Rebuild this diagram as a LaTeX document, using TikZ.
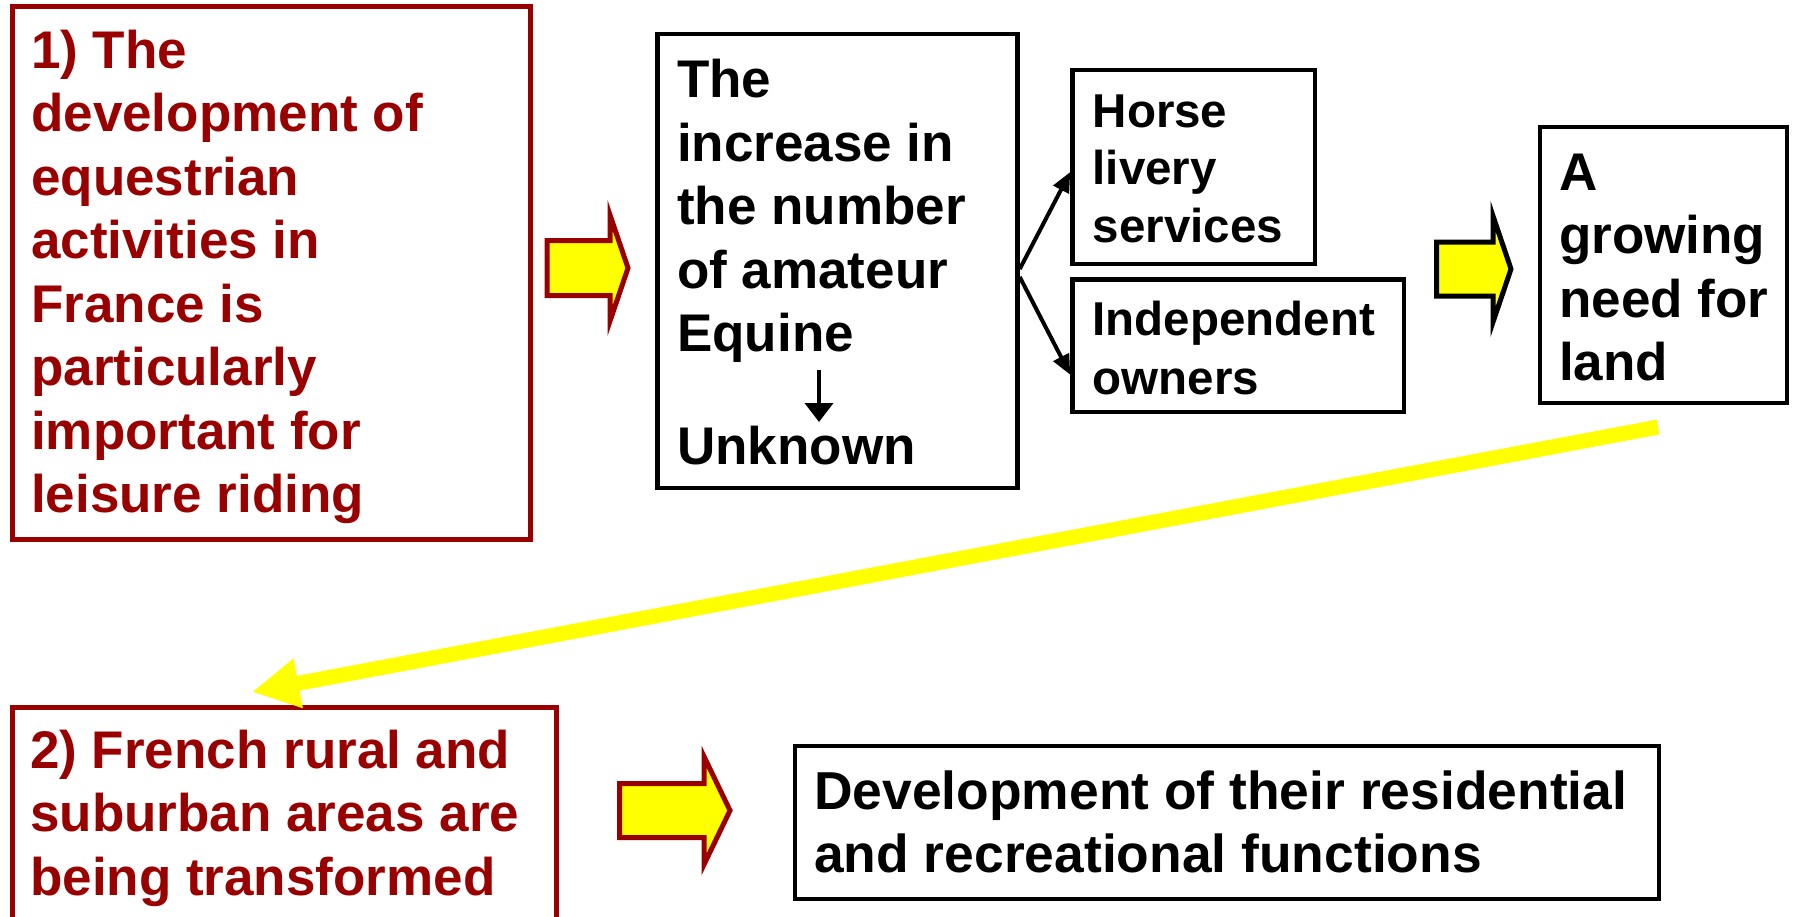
\documentclass[tikz,border=0pt]{standalone}
\usepackage{fontspec}
\setmainfont{Liberation Sans}
\usetikzlibrary{arrows.meta}
\definecolor{dred}{RGB}{153,0,0}
\definecolor{yel}{RGB}{255,255,0}
\begin{document}
\begin{tikzpicture}[x=1pt,y=-1pt,
  rbox/.style={draw=dred,line width=5pt,inner sep=0pt},
  kbox/.style={draw=black,line width=4.5pt,inner sep=0pt},
  bigtext/.style={font=\fontsize{53}{63.5}\selectfont\bfseries,anchor=base west,inner sep=0pt},
  smalltext/.style={font=\fontsize{47.5}{57.5}\selectfont\bfseries,anchor=base west,inner sep=0pt},
  blockarrow/.style={fill=yel,line width=5pt,line join=miter},
  thinarrow/.style={line width=4pt,-{Triangle[length=20pt,width=17pt]}},
]
\useasboundingbox (0,0) rectangle (1795,916);
\begin{scope}
\clip (0,0) rectangle (1795,916);
% boxes
\node[rbox,minimum width=518pt,minimum height=533pt] (b1) at (271,272.5) {};
\node[kbox,minimum width=360pt,minimum height=454pt] (b2) at (837.5,261) {};
\node[kbox,minimum width=242.5pt,minimum height=194pt] (b3) at (1193.75,167) {};
\node[kbox,minimum width=331.5pt,minimum height=132.5pt] (b4) at (1238.25,345.75) {};
\node[kbox,minimum width=247pt,minimum height=276pt] (b5) at (1663.5,265) {};
\node[rbox,minimum width=544pt,minimum height=253pt] (b6) at (284,833.5) {};
\node[kbox,minimum width=864pt,minimum height=153pt] (b7) at (1227,822.5) {};

% texts
\node[bigtext,text=dred] (t1) at (31,68) {\parbox[t]{500pt}{\raggedright 1) The\\development of\\equestrian\\activities in\\France is\\particularly\\important for\\leisure riding}};
\node[bigtext] (t2) at (677,97.5) {\parbox[t]{340pt}{\raggedright The\\increase in\\the number\\of amateur\\Equine}};
\node[bigtext] (t2b) at (677,464) {Unknown};
\node[smalltext] (t3) at (1092.5,127) {\parbox[t]{220pt}{\raggedright Horse\\livery\\services}};
\node[smalltext,font=\fontsize{47.5}{59}\selectfont\bfseries] (t4) at (1092.5,335) {\parbox[t]{310pt}{\raggedright Independent\\owners}};
\node[bigtext] (t5) at (1559,190) {\parbox[t]{230pt}{\raggedright A\\growing\\need for\\land}};
\node[bigtext,text=dred] (t6) at (30,768) {\parbox[t]{520pt}{\raggedright 2) French rural and\\suburban areas are\\being transformed}};
\node[bigtext,font=\fontsize{53.4}{63.5}\selectfont\bfseries] (t7) at (814,809) {\parbox[t]{840pt}{\raggedright Development of their residential\\and recreational functions}};

% block arrows
\coordinate (a1) at (547,268);
\draw[blockarrow,draw=dred] (547,240.5) -- (610,240.5) -- (610,215) -- (628,268) -- (610,321) -- (610,295.5) -- (547,295.5) -- cycle;
\coordinate (a2) at (1436.5,269);
\draw[blockarrow,draw=black] (1436.5,242) -- (1493,242) -- (1493,216) -- (1511,269) -- (1493,322) -- (1493,296) -- (1436.5,296) -- cycle;
\coordinate (a3) at (619.5,810.5);
\draw[blockarrow,draw=dred] (619.5,783.5) -- (704,783.5) -- (704,756.5) -- (730,810.5) -- (704,864.5) -- (704,837.5) -- (619.5,837.5) -- cycle;

% thin arrows
\draw[thinarrow] ([yshift=-8pt]b2.east) -- ([yshift=-5pt]b3.west);
\draw[thinarrow] ([yshift=-16pt]b2.east) -- ([yshift=-29pt]b4.west);
\coordinate (d1) at (819,370);
\coordinate (d2) at (819,422);
\draw[line width=4pt,-{Triangle[length=19pt,width=28pt]}] (d1) -- (d2);

% yellow diagonal arrow
\coordinate (ys) at (1658,427);
\coordinate (ye) at (252,692);
\draw[yel,line width=15pt,-{Triangle[length=47pt,width=47pt]}] (ys) -- (ye);
\end{scope}
\end{tikzpicture}
\end{document}
